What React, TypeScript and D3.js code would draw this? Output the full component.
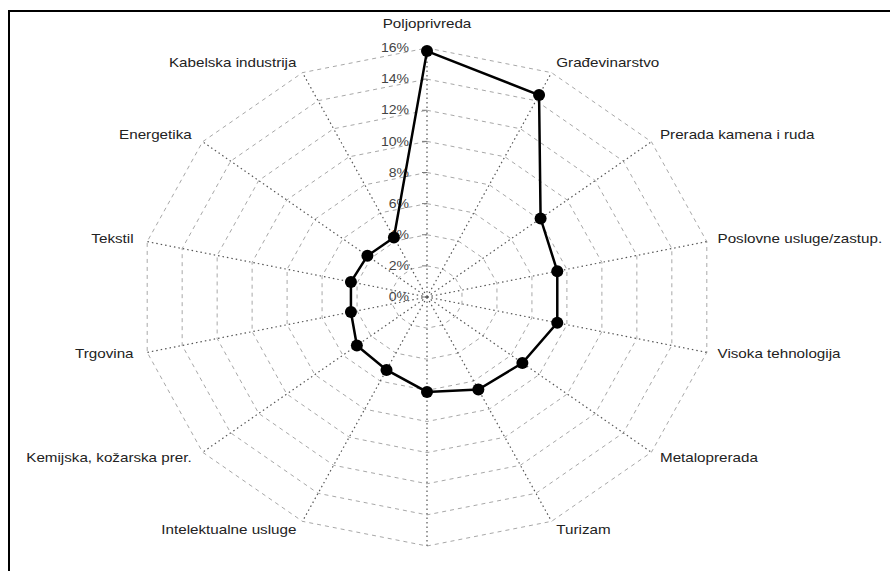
import * as d3 from "d3";

const categories = [
  "Poljoprivreda",
  "Građevinarstvo",
  "Prerada kamena i ruda",
  "Poslovne usluge/zastup.",
  "Visoka tehnologija",
  "Metaloprerada",
  "Turizam",
  "",
  "Intelektualne usluge",
  "Kemijska, kožarska prer.",
  "Trgovina",
  "Tekstil",
  "Energetika",
  "Kabelska industrija",
];
const values = [15.8, 14.4, 8.1, 7.45, 7.45, 6.8, 6.6, 6.1, 5.2, 5.0, 4.35, 4.35, 4.25, 4.25];
const ticks = [0, 2, 4, 6, 8, 10, 12, 14, 16];
const tickLabels = ["0%", "2%", "4%", "6%", "8%", "10%", "12%", "14%", "16%"];

const W = 890;
const H = 571;
const cx = 427;
const cy = 297;
const rx = 287;
const ry = 249;
const stretch = 1.17;

const App = () => {
  const n = categories.length;
  const r = d3.scaleLinear().domain([0, 16]).range([0, 1]);
  const angle = (i: number) => (i * 2 * Math.PI) / n;
  const pt = (i: number, v: number): [number, number] => [
    cx + r(v) * rx * Math.sin(angle(i)),
    cy - r(v) * ry * Math.cos(angle(i)),
  ];

  const line = d3.line<number>()
    .x((v, i) => pt(i, v)[0])
    .y((v, i) => pt(i, v)[1])
    .curve(d3.curveLinearClosed);

  const ring = (t: number) =>
    d3.line<number>()
      .x((_, i) => pt(i, t)[0])
      .y((_, i) => pt(i, t)[1])
      .curve(d3.curveLinearClosed)(categories.map(() => t)) || "";

  const labelPos = (i: number) => {
    const a = angle(i);
    const s = Math.sin(a);
    const c = Math.cos(a);
    const off = s < -0.1 ? 14 : 11;
    const x = cx + (rx + off) * s;
    const y = cy - (ry + 10) * c;
    let anchor = "middle";
    if (s > 0.1) anchor = "start";
    else if (s < -0.1) anchor = "end";
    return { x, y, anchor, top: c > 0.99 };
  };

  return (
    <svg
      width={W}
      height={H}
      style={{ position: "absolute", left: 0, top: 0, background: "#fff" }}
      fontFamily="'Liberation Sans', Arial, sans-serif"
    >
      {/* frame */}
      <line x1={8} y1={11} x2={W} y2={11} stroke="#000" strokeWidth={2} />
      <line x1={9} y1={10} x2={9} y2={H} stroke="#000" strokeWidth={2} />

      {/* rings */}
      {ticks.slice(1).map((t) => (
        <path key={t} d={ring(t)} fill="none" stroke="#a8a8a8" strokeWidth={1} strokeDasharray="4,4" />
      ))}

      {/* spokes */}
      {categories.map((_, i) => {
        const [x, y] = pt(i, 16);
        return (
          <line key={i} x1={cx} y1={cy} x2={x} y2={y} stroke="#555" strokeWidth={1.2} strokeDasharray="1.5,3" />
        );
      })}

      {/* axis ticks */}
      {ticks.map((t, k) => {
        const y = cy - r(t) * ry;
        return (
          <g key={t}>
            <line x1={cx - 5} y1={y} x2={cx} y2={y} stroke="#777" strokeWidth={1} />
            <text
              transform={`translate(${409},${y + 1}) scale(${stretch},1)`}
              textAnchor="end"
              dominantBaseline="middle"
              fontSize={12}
              fill="#444"
            >
              {tickLabels[k]}
            </text>
          </g>
        );
      })}

      {/* data */}
      <path d={line(values) || ""} fill="none" stroke="#000" strokeWidth={2.5} />
      {values.map((v, i) => {
        const [x, y] = pt(i, v);
        return <circle key={i} cx={x} cy={y} r={6} fill="#000" />;
      })}

      {/* category labels */}
      {categories.map((name, i) => {
        if (!name) return null;
        const p = labelPos(i);
        const y = p.top ? cy - ry - 23 : p.y;
        return (
          <text
            key={i}
            transform={`translate(${p.x},${y}) scale(${stretch},1)`}
            textAnchor={p.anchor}
            dominantBaseline="middle"
            fontSize={13}
            fill="#222"
          >
            {name}
          </text>
        );
      })}
    </svg>
  );
};

export default App;
